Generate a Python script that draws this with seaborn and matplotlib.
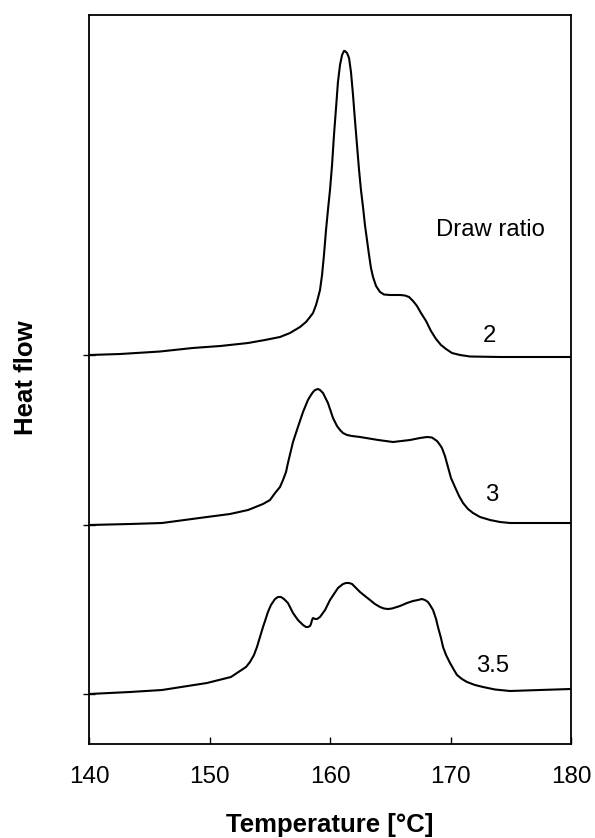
import numpy as np
import pandas as pd
import matplotlib
matplotlib.use("Agg")
import matplotlib.pyplot as plt
import seaborn as sns

# ---------------- data ----------------
draw_ratios = ["2", "3", "3.5"]

temp_dr2 = [140, 142.6, 145.9, 148.6, 150.9, 153.2, 154.6, 155.85, 156.68, 157.51,
            158.01, 158.34, 158.59, 158.84, 159.0, 159.17, 159.34, 159.5, 159.67, 159.83,
            160.0, 160.17, 160.33, 160.5, 160.66, 160.83, 161.0, 161.16, 161.24, 161.41,
            161.58, 161.74, 161.91, 162.07, 162.24, 162.41, 162.57, 162.74, 162.9, 163.07,
            163.24, 163.4, 163.57, 163.82, 164.15, 164.48, 164.98, 165.81, 166.22, 166.56,
            166.89, 167.22, 167.55, 167.97, 168.38, 168.8, 169.21, 169.63, 170.12, 170.79,
            171.62, 174.1, 180]
flow_dr2 = [389, 390, 392.5, 396, 398, 401, 404, 407, 411, 417,
            422, 427, 431, 439, 446, 454, 469, 489, 514, 534,
            554, 579, 609, 636, 662, 679, 689, 693, 693, 691,
            686, 672, 649, 624, 599, 574, 554, 537, 519, 504,
            489, 476, 467, 458, 452, 449.5, 449, 449, 448.5, 447,
            443, 438, 431, 423, 413, 405, 399, 395, 391, 389,
            387.5, 387, 387]

temp_dr3 = [140, 143.4, 146.06, 149.79, 151.7, 153.2, 154.44, 155.02, 155.44, 155.85,
            156.1, 156.35, 156.51, 156.93, 157.34, 157.76, 158.17, 158.42, 158.59, 158.76,
            159.0, 159.17, 159.42, 159.83, 160.25, 160.58, 160.83, 161.08, 161.41, 161.83,
            162.49, 164.0, 165.23, 166.64, 167.47, 168.05, 168.46, 168.88, 169.13, 169.29,
            169.54, 169.79, 170.04, 170.37, 170.71, 171.04, 171.45, 171.87, 172.45, 173.28,
            174.11, 174.94, 180]
flow_dr3 = [219, 220, 221, 227, 230, 234, 240, 244, 251, 257,
            264, 272, 281, 302, 317, 332, 344, 349, 352, 354,
            355, 354, 351, 341, 326, 318, 314, 311, 309, 308,
            307, 304, 302, 304, 306, 307, 306.5, 303, 299, 296,
            288, 277, 266, 257, 248, 241, 235, 231, 227, 224,
            222, 221, 221]

temp_dr35 = [140, 143.4, 146.06, 149.79, 151.78, 153.03, 153.36, 153.69, 153.94, 154.19,
             154.44, 154.69, 154.85, 155.1, 155.44, 155.68, 155.93, 156.18, 156.51, 156.93,
             157.34, 157.76, 158.01, 158.17, 158.34, 158.42, 158.51, 158.59, 158.76, 158.92,
             159.17, 159.59, 160.0, 160.33, 160.66, 161.08, 161.33, 161.58, 161.83, 162.16,
             162.49, 162.9, 163.32, 163.73, 164.15, 164.48, 164.81, 165.15, 165.81, 166.39,
             166.89, 167.3, 167.63, 167.88, 168.13, 168.3, 168.55, 168.8, 168.96, 169.21,
             169.38, 169.63, 169.96, 170.29, 170.54, 170.95, 171.37, 172.03, 172.7, 173.69,
             174.94, 177.43, 180]
flow_dr35 = [50, 52, 54, 61, 67, 77, 82, 89, 97, 107,
             117, 126, 132, 139, 145, 147, 147, 145, 141, 131,
             124, 119, 117, 117, 118, 120, 124, 126, 125, 125,
             127, 134, 144, 150, 156, 160, 161, 161, 160, 156,
             152, 148, 144, 140, 137, 135.5, 135, 135.5, 138, 141,
             143, 144, 145, 144, 142, 139, 134, 125, 117, 106,
             97, 89, 81, 74, 69, 65, 62, 59, 57, 54.5,
             53, 54, 55]

baselines = [389, 219, 50]           # left-axis tick marks (start of each trace)
label_temp = [173.2, 173.4, 173.5]   # position of the draw-ratio labels
label_flow = [408, 249, 78]
x_ticks = [140, 150, 160, 170, 180]

# ---------------- build long table ----------------
frames = []
for name, t, f in zip(draw_ratios, [temp_dr2, temp_dr3, temp_dr35],
                      [flow_dr2, flow_dr3, flow_dr35]):
    frames.append(pd.DataFrame({"Temperature": t, "Heat flow": f, "Draw ratio": name}))
df = pd.concat(frames, ignore_index=True)

# ---------------- style ----------------
sns.set_theme(style="ticks")
plt.rcParams["font.family"] = ["Liberation Sans", "DejaVu Sans"]
plt.rcParams["axes.linewidth"] = 1.3
plt.rcParams["text.color"] = "black"
plt.rcParams["axes.labelcolor"] = "black"
plt.rcParams["xtick.color"] = "black"
plt.rcParams["ytick.color"] = "black"
plt.rcParams["axes.edgecolor"] = "black"

fig = plt.figure(figsize=(5.95, 8.38), dpi=100)
ax = fig.add_axes([89 / 595, 94 / 838, 482 / 595, 729 / 838])

for name in draw_ratios:
    sub = df[df["Draw ratio"] == name]
    sns.lineplot(data=sub, x="Temperature", y="Heat flow", ax=ax,
                 color="black", linewidth=1.5, estimator=None, sort=False)

ax.set_xlim(140, 180)
ax.set_ylim(0, 729)
ax.set_xticks(x_ticks)
ax.set_xticklabels([str(v) for v in x_ticks], fontsize=17.5, color="black")
ax.tick_params(axis="x", direction="in", length=5, width=1.0, pad=16, colors="black")
ax.set_yticks(baselines)
ax.set_yticklabels([])
ax.tick_params(axis="y", direction="inout", length=9, width=1.0, colors="black")

for sp in ax.spines.values():
    sp.set_visible(True)
    sp.set_color("black")

ax.set_xlabel("Temperature [°C]", fontsize=18.5, fontweight="bold", color="black")
ax.set_ylabel("Heat flow", fontsize=18.5, fontweight="bold", color="black")
ax.xaxis.set_label_coords(0.5, -0.094)
ax.yaxis.set_label_coords(-0.106, 0.503)

ax.text(173.3, 514, "Draw ratio", fontsize=17.2, ha="center", va="center", color="black")
for name, tx, fy in zip(draw_ratios, label_temp, label_flow):
    ax.text(tx, fy, name, fontsize=17.2, ha="center", va="center", color="black")

if ax.get_legend() is not None:
    ax.get_legend().remove()

fig.savefig("out.png", dpi=100)
